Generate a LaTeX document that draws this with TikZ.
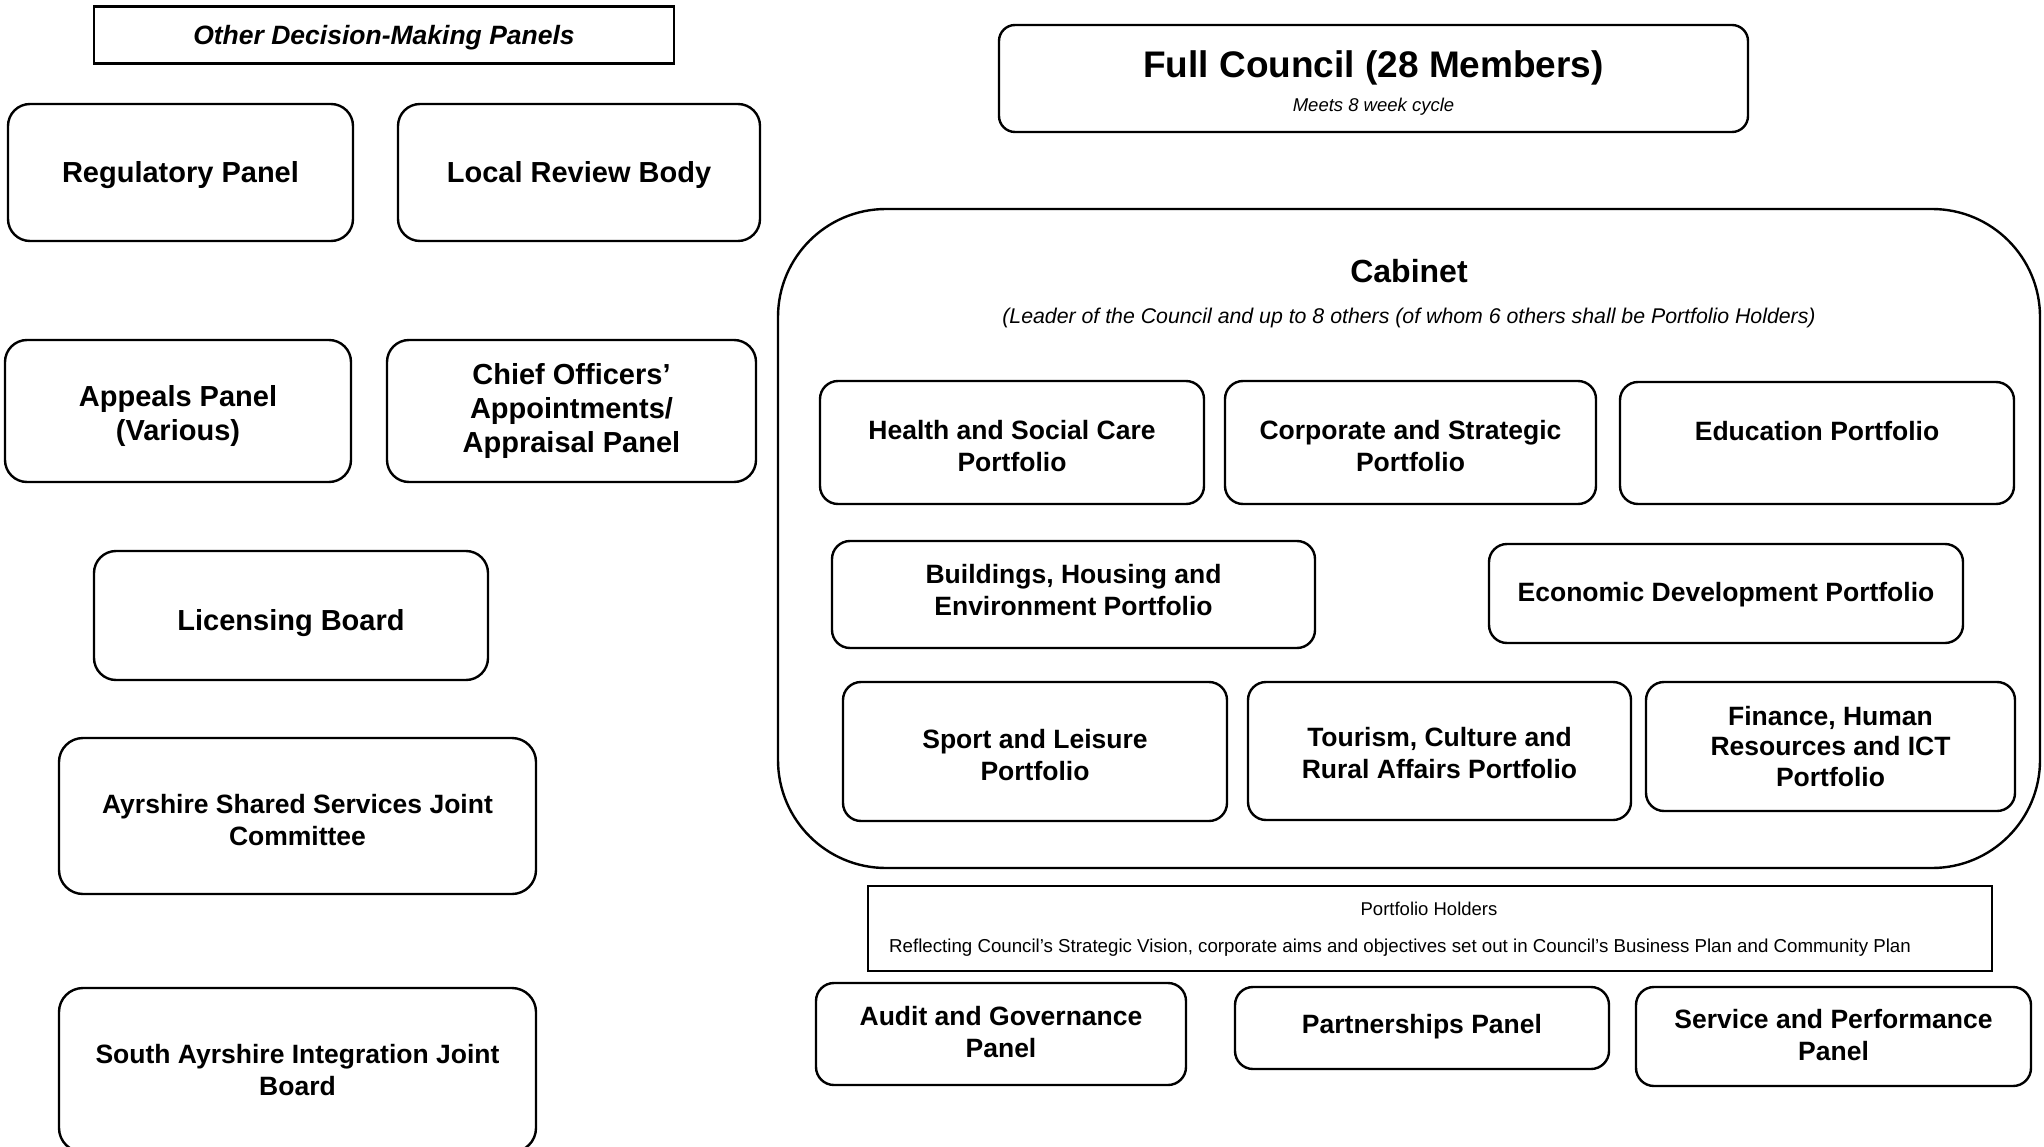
\documentclass[tikz,border=0pt]{standalone}
\usepackage{fontspec}
\setmainfont{Liberation Sans}
\begin{document}
\begin{tikzpicture}[x=1pt,y=-1pt,
  box/.style={draw, line width=2.4pt, rounded corners=22pt, inner sep=0pt},
  pbox/.style={box, rounded corners=18pt},
  sbox/.style={draw, line width=2.4pt, inner sep=0pt},
  big/.style={inner sep=0pt, align=center, font=\bfseries\fontsize{29}{34}\selectfont},
  mid/.style={inner sep=0pt, align=center, font=\bfseries\fontsize{26.5}{32}\selectfont},
  txt/.style={inner sep=0pt, align=center}]
\clip (0,0) rectangle (2044,1147);
\useasboundingbox (0,0) rectangle (2044,1147);
% left column
\node[sbox, minimum width=580pt, minimum height=57pt] (odmp) at (384,35) {};
\node[mid, font=\bfseries\itshape\fontsize{26.5}{32}\selectfont, yshift=-2.6pt] (odmp-t) at (odmp) {Other Decision-Making Panels};
\node[box, minimum width=345pt, minimum height=137pt] (reg) at (180.5,172.5) {};
\node[big, yshift=-2.6pt] (reg-t) at (reg) {Regulatory Panel};
\node[box, minimum width=362pt, minimum height=137pt] (lrb) at (579,172.5) {};
\node[big, yshift=-2.6pt] (lrb-t) at (lrb) {Local Review Body};
\node[box, minimum width=346pt, minimum height=142pt] (app) at (178,411) {};
\node[big, yshift=-5.2pt] (app-t) at (app) {Appeals Panel\\(Various)};
\node[box, minimum width=369pt, minimum height=142pt] (chief) at (571.5,411) {};
\node[big] (chief-t) at (chief) {Chief Officers’\\Appointments/\\Appraisal Panel};
\node[box, minimum width=394pt, minimum height=129pt] (lic) at (291,615.5) {};
\node[big, yshift=-7.8pt] (lic-t) at (lic) {Licensing Board};
\node[box, rounded corners=24pt, minimum width=477pt, minimum height=156pt] (ayr) at (297.5,816) {};
\node[mid, yshift=-4.5pt] (ayr-t) at (ayr) {Ayrshire Shared Services Joint\\Committee};
\node[box, rounded corners=24pt, minimum width=477pt, minimum height=164pt] (sa) at (297.5,1070) {};
\node[mid] (sa-t) at (sa) {South Ayrshire Integration Joint\\Board};
% full council
\node[box, rounded corners=16pt, minimum width=749pt, minimum height=107pt] (fc) at (1373.5,78.5) {};
\node[txt, font=\bfseries\fontsize{37}{42}\selectfont] (fct) at (1373.5,68) {Full Council (28 Members)};
\node[txt, font=\itshape\fontsize{18.5}{22}\selectfont] (fcs) at (1373.5,106.6) {Meets 8 week cycle};
% cabinet
\node[draw, line width=2.4pt, rounded corners=108pt, minimum width=1262pt, minimum height=659pt, inner sep=0pt] (cab) at (1409,538.5) {};
\node[txt, font=\bfseries\fontsize{32}{36}\selectfont] (cabt) at (1409,271) {Cabinet};
\node[txt, font=\itshape\fontsize{21.3}{25}\selectfont] (cabs) at (1409,317.6) {(Leader of the Council and up to 8 others (of whom 6 others shall be Portfolio Holders)};
\node[pbox, minimum width=384pt, minimum height=123pt] (hsc) at (1012,442.5) {};
\node[mid, yshift=-4pt] (hsc-t) at (hsc) {Health and Social Care\\Portfolio};
\node[pbox, minimum width=371pt, minimum height=123pt] (cs) at (1410.5,442.5) {};
\node[mid, yshift=-4pt] (cs-t) at (cs) {Corporate and Strategic\\Portfolio};
\node[pbox, minimum width=394pt, minimum height=122pt] (edu) at (1817,443) {};
\node[mid, yshift=11.7pt] (edu-t) at (edu) {Education Portfolio};
\node[pbox, minimum width=483pt, minimum height=107pt] (bh) at (1073.5,594.5) {};
\node[mid, yshift=4pt] (bh-t) at (bh) {Buildings, Housing and\\Environment Portfolio};
\node[pbox, minimum width=474pt, minimum height=99pt] (ed) at (1726,593.5) {};
\node[mid, yshift=-1.3pt] (ed-t) at (ed) {Economic Development Portfolio};
\node[pbox, minimum width=384pt, minimum height=139pt] (sl) at (1035,751.5) {};
\node[mid, yshift=-3.3pt] (sl-t) at (sl) {Sport and Leisure\\Portfolio};
\node[pbox, minimum width=383pt, minimum height=138pt] (tcr) at (1439.5,751) {};
\node[mid, yshift=-2pt] (tcr-t) at (tcr) {Tourism, Culture and\\Rural Affairs Portfolio};
\node[pbox, minimum width=369pt, minimum height=129pt] (fin) at (1830.5,746.5) {};
\node[mid, font=\bfseries\fontsize{26.5}{30.5}\selectfont] (fin-t) at (fin) {Finance, Human\\Resources and ICT\\Portfolio};
% portfolio holders
\node[draw, line width=1.6pt, minimum width=1124pt, minimum height=85pt, inner sep=0pt] (ph) at (1430,928.5) {};
\node[txt, font=\fontsize{18.5}{22}\selectfont] (pht) at (1429,909) {Portfolio Holders};
\node[txt, anchor=west, font=\fontsize{18.7}{22}\selectfont] (phs) at (889,947.6) {Reflecting Council’s Strategic Vision, corporate aims and objectives set out in Council’s Business Plan and Community Plan};
% bottom panels
\node[pbox, minimum width=370pt, minimum height=102pt] (aud) at (1001,1034) {};
\node[mid, yshift=2pt] (aud-t) at (aud) {Audit and Governance\\Panel};
\node[pbox, minimum width=374pt, minimum height=82pt] (part) at (1422,1028) {};
\node[mid, yshift=1.3pt] (part-t) at (part) {Partnerships Panel};
\node[pbox, minimum width=395pt, minimum height=99pt] (serv) at (1833.5,1036.5) {};
\node[mid, yshift=1.3pt] (serv-t) at (serv) {Service and Performance\\Panel};
\end{tikzpicture}
\end{document}
